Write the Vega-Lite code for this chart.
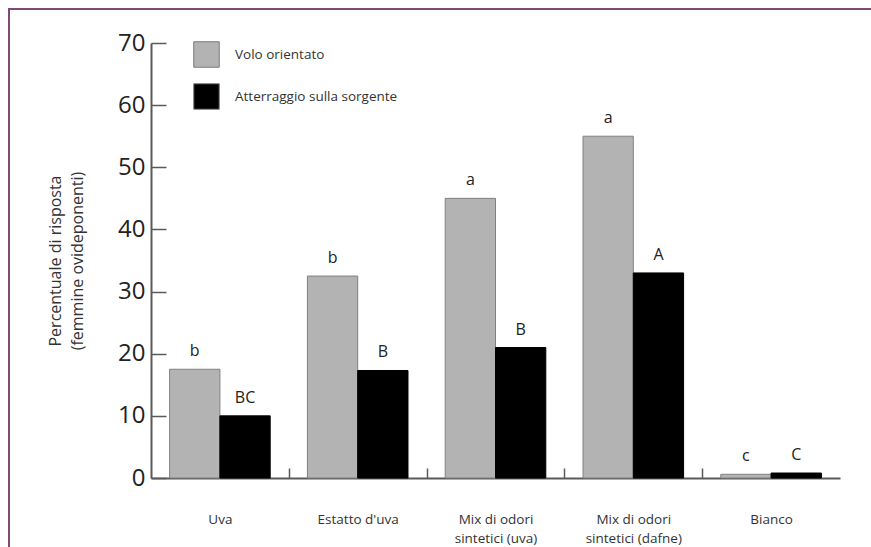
{
  "$schema": "https://vega.github.io/schema/vega-lite/v6.json",
  "autosize": "none",
  "padding": {"left": 9, "top": 9, "right": -8, "bottom": -7},
  "width": 870,
  "height": 545,
  "background": "white",
  "data": {
    "values": [
      {"stimolo": "Uva", "risposta": "Volo orientato", "percentuale": 17.5, "lettera": "b"},
      {"stimolo": "Uva", "risposta": "Atterraggio sulla sorgente", "percentuale": 10, "lettera": "BC"},
      {"stimolo": "Estatto d'uva", "risposta": "Volo orientato", "percentuale": 32.5, "lettera": "b"},
      {"stimolo": "Estatto d'uva", "risposta": "Atterraggio sulla sorgente", "percentuale": 17.3, "lettera": "B"},
      {"stimolo": "Mix di odori sintetici (uva)", "risposta": "Volo orientato", "percentuale": 45, "lettera": "a"},
      {"stimolo": "Mix di odori sintetici (uva)", "risposta": "Atterraggio sulla sorgente", "percentuale": 21, "lettera": "B"},
      {"stimolo": "Mix di odori sintetici (dafne)", "risposta": "Volo orientato", "percentuale": 55, "lettera": "a"},
      {"stimolo": "Mix di odori sintetici (dafne)", "risposta": "Atterraggio sulla sorgente", "percentuale": 33, "lettera": "A"},
      {"stimolo": "Bianco", "risposta": "Volo orientato", "percentuale": 0.6, "lettera": "c"},
      {"stimolo": "Bianco", "risposta": "Atterraggio sulla sorgente", "percentuale": 0.8, "lettera": "C"}
    ]
  },
  "encoding": {
    "x": {
      "field": "stimolo",
      "type": "nominal",
      "sort": ["Uva", "Estatto d'uva", "Mix di odori sintetici (uva)", "Mix di odori sintetici (dafne)", "Bianco"],
      "scale": {"range": [142, 831], "paddingInner": 0.27, "paddingOuter": 0.135},
      "axis": {
        "title": null,
        "offset": -76,
        "labelAngle": 0,
        "domainColor": "#5a5a5a",
        "domainWidth": 2,
        "tickColor": "#5a5a5a",
        "tickWidth": 1.5,
        "tickSize": -10,
        "tickOffset": 68.9,
        "labelOffset": -68.9,
        "tickOpacity": {"condition": {"test": "datum.value === 'Bianco'", "value": 0}, "value": 1},
        "labelFont": "Open Sans",
        "labelFontSize": 13.5,
        "labelColor": "#333333",
        "labelPadding": 44,
        "labelLineHeight": 19,
        "labelExpr": "indexof(datum.label, 'Mix di odori') === 0 ? ['Mix di odori', slice(datum.label, 13)] : datum.label"
      }
    },
    "xOffset": {
      "field": "risposta",
      "type": "nominal",
      "sort": ["Volo orientato", "Atterraggio sulla sorgente"],
      "scale": {"paddingInner": 0, "paddingOuter": 0}
    },
    "y": {
      "field": "percentuale",
      "type": "quantitative",
      "scale": {"domain": [0, 70], "range": [469, 34], "nice": false},
      "axis": {
        "offset": -142,
        "values": [0, 10, 20, 30, 40, 50, 60, 70],
        "grid": false,
        "domainColor": "#5a5a5a",
        "domainWidth": 2,
        "tickColor": "#5a5a5a",
        "tickWidth": 1.5,
        "tickSize": -15,
        "labelFont": "Open Sans",
        "labelFontSize": 24,
        "labelColor": "#222222",
        "labelPadding": 21,
        "title": ["Percentuale di risposta", "(femmine ovideponenti)"],
        "titleFont": "Open Sans",
        "titleFontSize": 16,
        "titleFontWeight": "normal",
        "titleColor": "#333333",
        "titleLineHeight": 22,
        "titlePadding": 32
      }
    }
  },
  "layer": [
    {
      "mark": {"type": "bar", "strokeWidth": 1},
      "encoding": {
        "fill": {
          "field": "risposta",
          "type": "nominal",
          "sort": ["Volo orientato", "Atterraggio sulla sorgente"],
          "scale": {"range": ["#b3b3b3", "#000000"]},
          "legend": {
            "orient": "none",
            "legendX": 184,
            "legendY": 32,
            "title": null,
            "padding": 0,
            "symbolType": "square",
            "symbolSize": 650,
            "symbolStrokeColor": "#7a7a7a",
            "symbolStrokeWidth": 1,
            "labelFont": "Open Sans",
            "labelFontSize": 13.5,
            "labelColor": "#333333",
            "labelOffset": 15,
            "labelLimit": 400,
            "rowPadding": 11
          }
        },
        "stroke": {
          "field": "risposta",
          "type": "nominal",
          "sort": ["Volo orientato", "Atterraggio sulla sorgente"],
          "scale": {"range": ["#808080", "#000000"]},
          "legend": null
        }
      }
    },
    {
      "mark": {"type": "text", "baseline": "alphabetic", "dy": -13, "font": "Open Sans", "fontSize": 16, "color": "#222222"},
      "encoding": {"text": {"field": "lettera", "type": "nominal"}}
    }
  ],
  "config": {
    "view": {"stroke": "#7b4b73", "strokeWidth": 2}
  }
}
